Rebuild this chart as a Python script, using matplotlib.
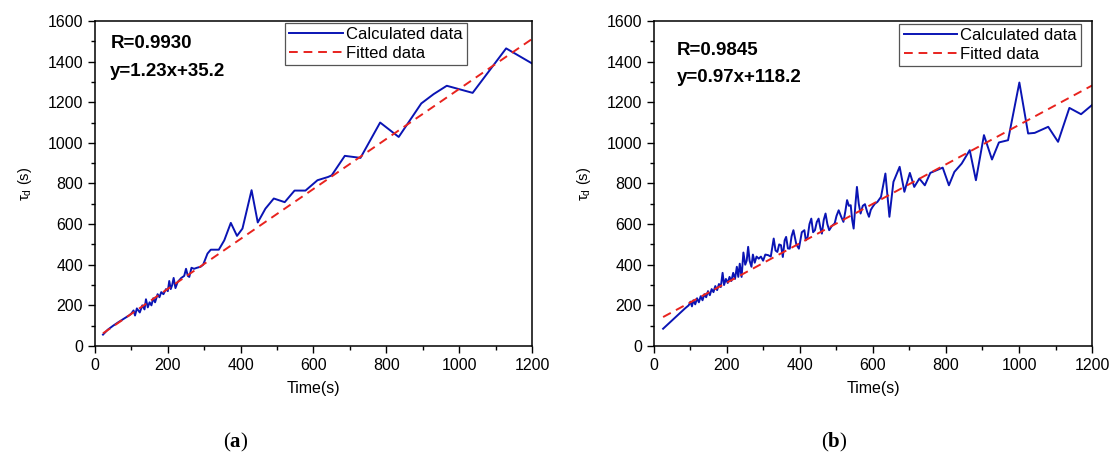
import numpy as np
import matplotlib
matplotlib.use("Agg")
import matplotlib.pyplot as plt
from matplotlib.ticker import MultipleLocator

plt.rcParams['font.family'] = ['Liberation Sans', 'DejaVu Sans']
plt.rcParams['mathtext.fontset'] = 'custom'
plt.rcParams['mathtext.rm'] = 'Liberation Sans'
plt.rcParams['mathtext.it'] = 'Liberation Sans:italic'
plt.rcParams['mathtext.bf'] = 'Liberation Serif:bold'

# panel (a): calculated delay time
time_a = [22, 35, 50, 65, 80, 95, 100, 106, 110, 115, 123, 130, 136, 140, 145,
          150, 155, 160, 165, 172, 177, 182, 188, 195, 200, 204, 208, 212, 216,
          221, 227, 232, 237, 245, 250, 255, 259, 265, 272, 280, 290, 297, 309,
          318, 340, 355, 373, 390, 405, 430, 447, 468, 491, 521, 548, 578, 611,
          640, 650, 686, 729, 783, 834, 896, 930, 966, 1037, 1129, 1200]
tau_a = [56, 80, 100, 118, 135, 152, 160, 175, 150, 185, 165, 200, 180, 230, 190,
         215, 200, 235, 215, 255, 240, 265, 255, 280, 270, 320, 280, 300, 335,
         285, 315, 325, 335, 345, 380, 345, 340, 385, 380, 385, 390, 400, 455,
         474, 474, 520, 606, 542, 578, 767, 608, 676, 726, 708, 765, 765, 816,
         832, 840, 936, 926, 1100, 1029, 1194, 1240, 1281, 1246, 1465, 1391]

# panel (b): calculated delay time
time_b = [25, 40, 55, 70, 85, 95, 100, 104, 108, 113, 118, 123, 128, 133, 138,
          143, 148, 153, 158, 163, 168, 173, 178, 183, 188, 192, 197, 202, 207,
          212, 217, 222, 227, 231, 235, 240, 245, 250, 254, 258, 262, 267, 271,
          276, 281, 287, 293, 299, 305, 313, 320, 328, 333, 338, 343, 348, 353,
          358, 362, 367, 372, 377, 382, 390, 397, 405, 412, 416, 421, 426, 431,
          436, 441, 446, 451, 456, 460, 465, 470, 475, 480, 487, 495, 500, 506,
          512, 519, 524, 529, 534, 539, 543, 547, 552, 556, 561, 566, 572, 578,
          584, 589, 594, 599, 605, 612, 622, 634, 645, 656, 673, 686, 701, 713,
          727, 742, 757, 791, 808, 823, 843, 865, 882, 904, 926, 945, 970, 1001,
          1025, 1043, 1080, 1107, 1138, 1170, 1200]
tau_b = [85, 110, 135, 160, 185, 200, 218, 195, 225, 205, 235, 215, 245, 225, 255,
         240, 270, 250, 280, 265, 295, 275, 305, 290, 360, 300, 330, 310, 340,
         320, 360, 330, 390, 340, 405, 340, 460, 400, 420, 488, 420, 390, 450,
         410, 440, 430, 440, 420, 450, 447, 440, 529, 470, 463, 500, 496, 438,
         520, 537, 480, 479, 540, 570, 500, 479, 560, 570, 520, 537, 600, 627,
         560, 570, 610, 627, 580, 553, 620, 652, 600, 570, 590, 603, 640, 668,
         640, 611, 660, 718, 690, 693, 620, 578, 700, 783, 700, 652, 690, 698,
         660, 636, 670, 685, 700, 709, 734, 849, 636, 808, 882, 759, 852, 783,
         824, 791, 852, 878, 791, 857, 898, 964, 816, 1038, 918, 1002, 1013, 1297,
         1046, 1049, 1079, 1005, 1172, 1141, 1186]

# linear fits (slope, intercept) and the time span they cover
fit_a = (1.23, 35.2)
fit_b = (0.97, 118.2)
fit_span_a = (22, 1200)
fit_span_b = (25, 1200)

r_text = ['R=0.9930', 'R=0.9845']
eq_text = ['y=1.23x+35.2', 'y=0.97x+118.2']
panel_tags = ['(' + r'$\mathbf{a}$' + ')', '(' + r'$\mathbf{b}$' + ')']

blue = '#0a14b4'
red = '#e8231e'

fig = plt.figure(figsize=(11.16, 4.69), dpi=100)
ax_a = fig.add_axes([0.0851, 0.2623, 0.3916, 0.693])
ax_b = fig.add_axes([0.586, 0.2623, 0.3925, 0.693])

panels = [
    (ax_a, time_a, tau_a, fit_a, fit_span_a, (0.035, 0.93), (0.851, 0.995)),
    (ax_b, time_b, tau_b, fit_b, fit_span_b, (0.053, 0.91), (0.975, 0.992)),
]

for i, (ax, t, tau, fit, span, txt_pos, leg_pos) in enumerate(panels):
    tf = np.array(span)
    ax.plot(t, tau, color=blue, lw=1.4, label='Calculated data')
    ax.plot(tf, fit[0] * tf + fit[1], color=red, lw=1.4,
            dashes=(4.5, 3), label='Fitted data')

    ax.set_xlim(0, 1200)
    ax.set_ylim(0, 1600)
    ax.xaxis.set_major_locator(MultipleLocator(200))
    ax.xaxis.set_minor_locator(MultipleLocator(100))
    ax.yaxis.set_major_locator(MultipleLocator(200))
    ax.yaxis.set_minor_locator(MultipleLocator(100))
    ax.tick_params(which='both', direction='out', top=False, right=False,
                   labelsize=11.5)
    ax.tick_params(which='major', length=5, width=1)
    ax.tick_params(which='minor', length=3, width=1)
    for sp in ax.spines.values():
        sp.set_linewidth(1.1)

    ax.set_xlabel('Time(s)', fontsize=11.5, labelpad=6)
    ax.set_ylabel('τ$_\\mathrm{d}$ (s)', fontsize=10.5, labelpad=10)

    ax.text(txt_pos[0], txt_pos[1], r_text[i], transform=ax.transAxes,
            fontsize=13.5, fontweight='bold', va='center', ha='left')
    ax.text(txt_pos[0], txt_pos[1] - 0.085, eq_text[i], transform=ax.transAxes,
            fontsize=13.5, fontweight='bold', va='center', ha='left')

    leg = ax.legend(loc='upper right', bbox_to_anchor=leg_pos, fontsize=12,
                    handlelength=3.2, handletextpad=0.2, borderpad=0.25,
                    labelspacing=0.25, fancybox=False, framealpha=1,
                    borderaxespad=0)
    leg.get_frame().set_edgecolor('#555555')
    leg.get_frame().set_linewidth(0.9)

fig.text(236 / 1116, 1 - 442 / 469, panel_tags[0], fontsize=15,
         family='Liberation Serif', ha='center', va='center')
fig.text(834 / 1116, 1 - 442 / 469, panel_tags[1], fontsize=15,
         family='Liberation Serif', ha='center', va='center')

fig.savefig('out.png', dpi=100)
